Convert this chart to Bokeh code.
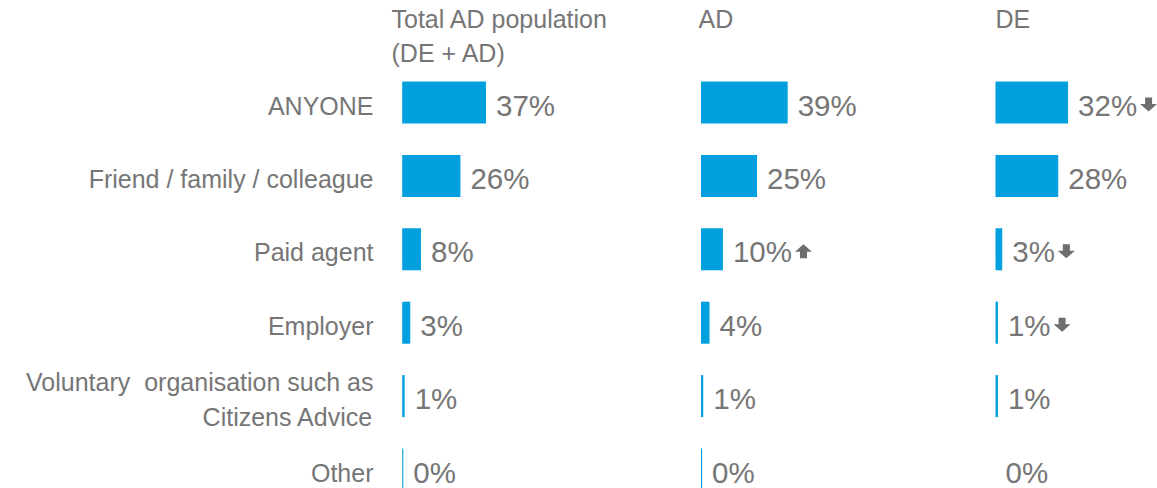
from bokeh.plotting import figure
from bokeh.models import ColumnDataSource, Range1d
from bokeh.embed import file_html
from bokeh.resources import INLINE
from bokeh.core.properties import value

# ---------------- data ----------------
categories = [
    "ANYONE",
    "Friend / family / colleague",
    "Paid agent",
    "Employer",
    "Voluntary\u00a0 organisation such as\nCitizens Advice",
    "Other",
]
groups = ["Total AD population\n(DE + AD)", "AD", "DE"]

# bar lengths (as drawn) and printed percentages
total_bar = [37.4, 26.0, 8.4, 3.6, 1.1, 0.5]
ad_bar = [38.7, 25.0, 9.8, 3.8, 1.0, 0.5]
de_bar = [32.4, 28.0, 3.0, 1.1, 1.1, 0.0]
total_pct = [37, 26, 8, 3, 1, 0]
ad_pct = [39, 25, 10, 4, 1, 0]
de_pct = [32, 28, 3, 1, 1, 0]
# significance markers: 1 = up arrow, -1 = down arrow, 0 = none
total_sig = [0, 0, 0, 0, 0, 0]
ad_sig = [0, 0, 1, 0, 0, 0]
de_sig = [-1, 0, -1, -1, 0, 0]

bars = [total_bar, ad_bar, de_bar]
pcts = [total_pct, ad_pct, de_pct]
sigs = [total_sig, ad_sig, de_sig]

# ---------------- layout ----------------
BLUE = "#00A0DF"
GREY = "#767676"
FONT = "Liberation Sans"

W, H = 1157, 488
PX = 2.24          # px per percentage point
ROW = 73.4         # px per row
ROW0 = 102.0       # px from figure top to first row centre
TXT_SHIFT = -9.5   # correction of rendered text baseline (px)
y_top = -ROW0 / ROW
y_bot = y_top + H / ROW


def fx(px):
    return px / PX


def fy(py):
    return y_top + py / ROW


panel_left_px = [401.7, 700.5, 995.0]
header_left_px = [391.0, 698.0, 995.0]
label_right_px = 373.0

VAL_FS = 29.5
LAB_FS = 25
HDR_FS = 25

p = figure(width=W, height=H, x_range=Range1d(0, W / PX),
           y_range=Range1d(y_bot, y_top), output_backend="svg",
           toolbar_location=None, min_border=0,
           x_axis_location=None, y_axis_location=None)
p.grid.visible = False
p.outline_line_color = None
p.background_fill_color = "white"

# bars, value labels, arrows
bx_l, bx_r, by = [], [], []
vx, vy, vt = [], [], []
axs, ays = [], []
ADV = {c: 0.556 for c in "0123456789"}
ADV["%"] = 0.889
for g in range(3):
    off = fx(panel_left_px[g])
    for i, (b, pc, s) in enumerate(zip(bars[g], pcts[g], sigs[g])):
        bx_l.append(off)
        bx_r.append(off + b)
        by.append(i)
        txt = f"{pc}%"
        vx.append(off + b)
        vy.append(i + (12 + TXT_SHIFT) / ROW)
        vt.append(txt)
        if s != 0:
            tw = VAL_FS * sum(ADV[c] for c in txt)
            cx = off + b + fx(10 + tw + 3 + 8.5)
            cy = i + 2 / ROW
            pts = [(-3.5, -7), (3.5, -7), (3.5, -0.5), (8.5, -0.5), (0, 7),
                   (-8.5, -0.5), (-3.5, -0.5)]
            sign = -s  # down arrow has its tip towards screen-down
            axs.append([cx + fx(px_) for px_, _ in pts])
            ays.append([cy + sign * py_ / ROW for _, py_ in pts])

p.hbar(y="y", left="left", right="right", height=42 / ROW,
       source=ColumnDataSource(dict(y=by, left=bx_l, right=bx_r)),
       fill_color=BLUE, line_color=None)

p.text(x="x", y="y", text="text", source=ColumnDataSource(dict(x=vx, y=vy, text=vt)),
       x_offset=10, text_font=value(FONT), text_font_size=value(f"{VAL_FS}px"),
       text_color=GREY, text_align="left", text_baseline="alphabetic")

if axs:
    p.patches(xs="xs", ys="ys", source=ColumnDataSource(dict(xs=axs, ys=ays)),
              fill_color="#6E6E6E", line_color=None)

# category labels
lx, ly, lt = [], [], []
for i, cat in enumerate(categories):
    lines = cat.split("\n")
    n = len(lines)
    for k, ln in enumerate(lines):
        lx.append(fx(label_right_px))
        ly.append(i + (12.5 + TXT_SHIFT + (k - (n - 1) / 2) * 35) / ROW)
        lt.append(ln)
p.text(x="x", y="y", text="text", source=ColumnDataSource(dict(x=lx, y=ly, text=lt)),
       text_font=value(FONT), text_font_size=value(f"{LAB_FS}px"),
       text_color=GREY, text_align="right", text_baseline="alphabetic")

# headers
hx, hy, ht = [], [], []
for g, grp in enumerate(groups):
    for k, ln in enumerate(grp.split("\n")):
        hx.append(fx(header_left_px[g]))
        hy.append(fy(28 + TXT_SHIFT + 34 * k))
        ht.append(ln)
p.text(x="x", y="y", text="text", source=ColumnDataSource(dict(x=hx, y=hy, text=ht)),
       text_font=value(FONT), text_font_size=value(f"{HDR_FS}px"),
       text_color=GREY, text_align="left", text_baseline="alphabetic")

open("out.html", "w").write(file_html(p, INLINE))
